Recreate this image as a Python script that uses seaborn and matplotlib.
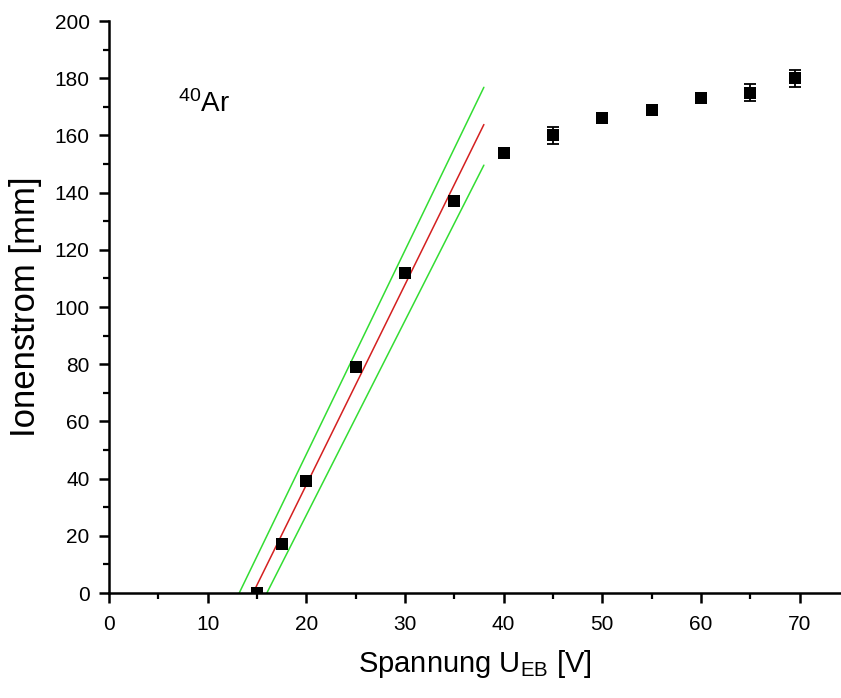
import numpy as np
import pandas as pd
import seaborn as sns
import matplotlib.pyplot as plt

# Messwerte
spannung = [15, 17.5, 20, 25, 30, 35, 40, 45, 50, 55, 60, 65, 69.5]
ionenstrom = [0, 17, 39, 79, 112, 137, 154, 160, 166, 169, 173, 175, 180]
fehler = [1, 1.2, 1.2, 1.2, 1.2, 1.5, 1.5, 3, 1.5, 1.5, 1.5, 3, 3]

# Ausgleichsgerade (rot) und Grenzgeraden (gruen): Steigung, Nullstelle
fit_steigung = [7.0, 7.13, 6.8]
fit_nullstelle = [14.6, 13.2, 16.0]
fit_farbe = ['#d42020', '#33dd33', '#33dd33']
fit_ende = 38.0

sns.set_style('ticks')
plt.rcParams['font.family'] = ['Liberation Sans', 'DejaVu Sans']
plt.rcParams['mathtext.fontset'] = 'custom'
plt.rcParams['mathtext.rm'] = 'Liberation Sans'
plt.rcParams['mathtext.it'] = 'Liberation Sans'
for k in ['text.color', 'axes.labelcolor', 'axes.edgecolor', 'xtick.color', 'ytick.color']:
    plt.rcParams[k] = 'black'

df = pd.DataFrame({'U': spannung, 'I': ionenstrom, 'err': fehler})

fig = plt.figure(figsize=(8.41, 6.98), dpi=100)
ax = fig.add_axes([0.1296, 0.1504, 0.8704, 0.8195])

for m, x0, c in zip(fit_steigung, fit_nullstelle, fit_farbe):
    xs = np.array([x0, fit_ende])
    sns.lineplot(x=xs, y=m * (xs - x0), color=c, lw=1.1, ax=ax, zorder=2)

ax.errorbar(df['U'], df['I'], yerr=df['err'], fmt='none', ecolor='black',
            elinewidth=1.3, capsize=4, capthick=1.3, zorder=3)
sns.scatterplot(data=df, x='U', y='I', marker='s', s=70, color='black',
                edgecolor='black', linewidth=0, ax=ax, zorder=4)

ax.set_xlim(0, 74.2)
ax.set_ylim(0, 200)
ax.set_xticks(np.arange(0, 71, 10))
ax.set_xticks(np.arange(5, 75, 10), minor=True)
ax.set_yticks(np.arange(0, 201, 20))
ax.set_yticks(np.arange(10, 200, 20), minor=True)

sns.despine(ax=ax)
for s in ['left', 'bottom']:
    ax.spines[s].set_linewidth(1.8)
    ax.spines[s].set_zorder(5)
ax.tick_params(which='major', length=7, width=1.8, labelsize=15, direction='out')
ax.tick_params(axis='x', which='major', pad=9)
ax.tick_params(axis='y', which='major', pad=7)
ax.tick_params(which='minor', length=4, width=1.6, direction='out')

ax.set_xlabel(r'Spannung U$_{\mathrm{EB}}$ [V]', fontsize=21, labelpad=10)
ax.set_ylabel('Ionenstrom [mm]', fontsize=25, labelpad=9)

ax.text(7.0, 168.3, r'$^{40}$Ar', fontsize=20)

plt.savefig('out.png', dpi=100)
